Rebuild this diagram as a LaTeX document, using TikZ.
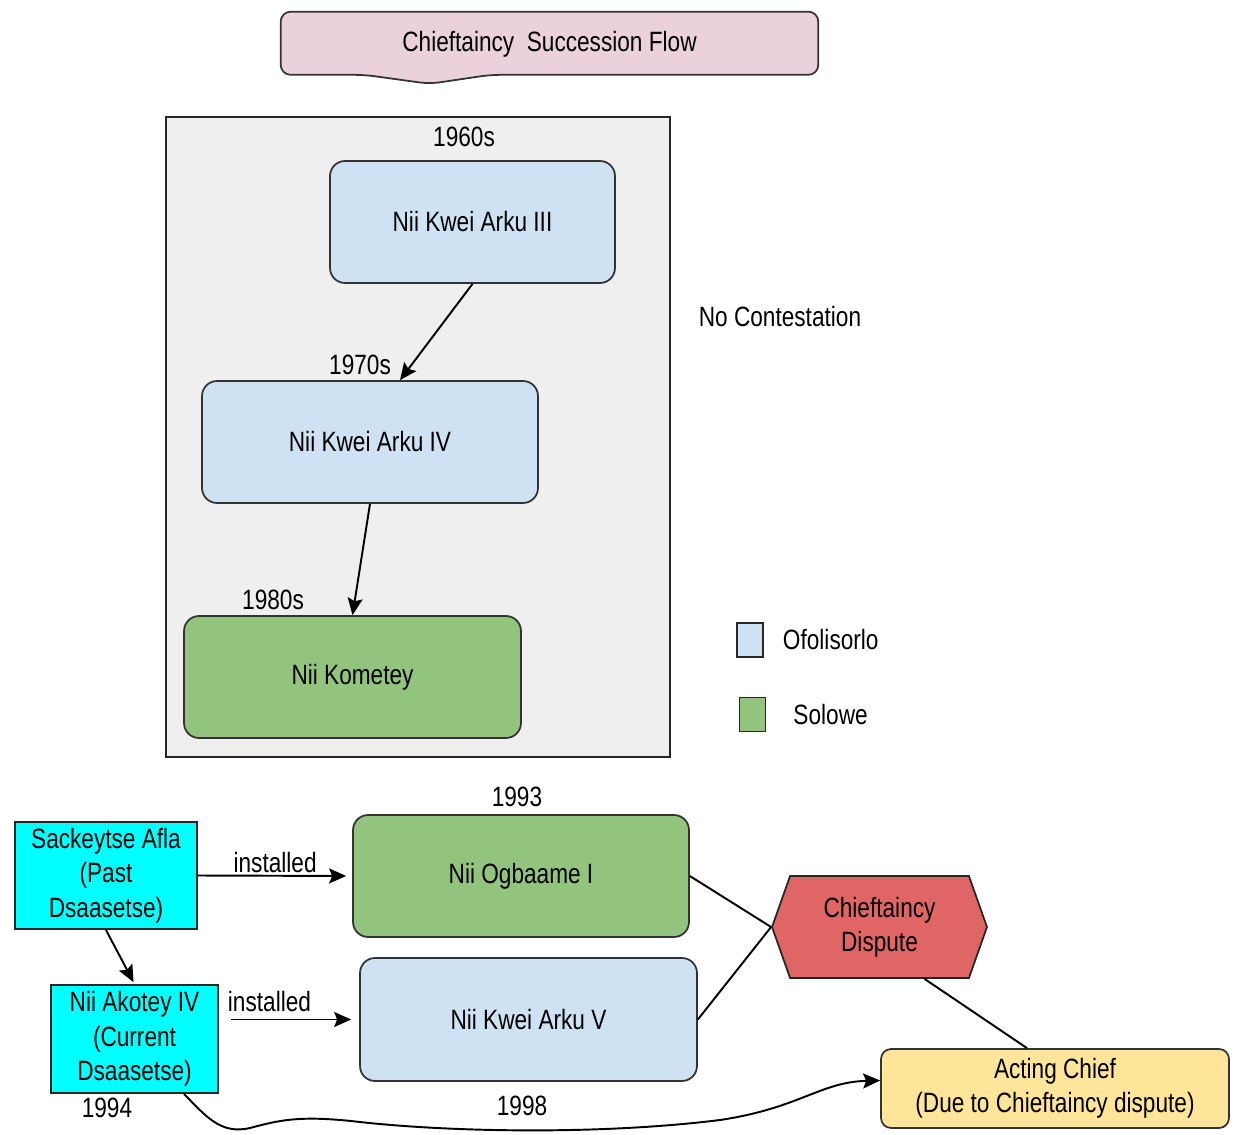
\documentclass[tikz,border=0pt]{standalone}
\usepackage{fontspec}
\setmainfont{Liberation Sans}[FakeStretch=0.81]
\usetikzlibrary{arrows.meta,positioning,shapes.symbols,backgrounds}
\definecolor{ttlpink}{HTML}{EAD1DC}
\definecolor{eragray}{HTML}{EFEFEF}
\definecolor{ofoblue}{HTML}{CFE2F3}
\definecolor{solgreen}{HTML}{93C47D}
\definecolor{dcyan}{HTML}{00FFFF}
\definecolor{dred}{HTML}{E06666}
\definecolor{actyellow}{HTML}{FFE599}

\begin{document}
\begin{tikzpicture}[
  x=0.02cm, y=-0.02cm,
  font=\fontsize{15.9}{19.6}\selectfont,
  box/.style={draw=black!80, line width=1pt, rounded corners=0.3cm, minimum width=6.72cm, minimum height=2.44cm, align=center},
  dsa/.style={draw=black!85, line width=1.2pt, fill=dcyan, align=center, inner sep=1pt},
  lab/.style={inner sep=1pt},
  key/.style={draw=black!85, line width=1pt, minimum width=0.52cm, minimum height=0.68cm, inner sep=0pt},
  con/.style={line width=1.1pt},
  arr/.style={con, -{Stealth[length=3.4mm, width=3mm, inset=0.6mm]}}
]
\useasboundingbox (0,0) rectangle (1244,1135);

% title banner
\node[minimum width=10.74cm, minimum height=1.22cm] (title) at (549.5,44) {Chieftaincy\ \ Succession Flow};
\begin{scope}[on background layer]
\draw[fill=ttlpink, draw=black!80, line width=1pt, rounded corners=0.2cm] ([yshift=0.03cm]title.west) -- ([yshift=0.03cm]title.north west) -- ([yshift=0.03cm]title.north east) -- (title.south east)
  -- ([xshift=-6.56cm]title.south east) -- ([xshift=2.98cm, yshift=-0.18cm]title.south west) -- ([xshift=1.68cm]title.south west) -- (title.south west) -- cycle;
\end{scope}

% uncontested period
\node[draw=black!85, line width=1pt, fill=eragray, minimum width=10.08cm, minimum height=12.8cm] (era) at (418,437) {};
\node[box, fill=ofoblue, minimum width=5.7cm] (k3) at (472.5,222) {Nii Kwei Arku III};
\node[box, fill=ofoblue] (k4) at (370,442) {Nii Kwei Arku IV};
\node[box, fill=solgreen, minimum width=6.74cm] (kom) at (352.5,677) {Nii Kometey};
\node[lab] (y60) at (464,137) {1960s};
\node[lab] (y70) at (360,365) {1970s};
\node[lab] (y80) at (273,600) {1980s};
\draw[arr] (k3.south) -- ([xshift=0.6cm]k4.north);
\draw[arr] (k4.south) -- (kom.north);

\node[lab] (nocon) at (780,317) {No Contestation};

% legend
\node[key, fill=ofoblue] (kofo) at (750,640) {};
\node[lab, right=0.34cm of kofo] (tofo) {Ofolisorlo};
\node[key, fill=solgreen] (ksol) at (752.5,714.5) {};
\node[lab, right=0.5cm of ksol] (tsol) {Solowe};

% contested period
\node[box, fill=solgreen] (ogb) at (521,876) {Nii Ogbaame I};
\node[box, fill=ofoblue, minimum width=6.74cm, minimum height=2.46cm] (k5) at (528.5,1019.5) {Nii Kwei Arku V};
\node[dsa, minimum width=3.64cm, minimum height=2.14cm] (sack) at (106,875.5) {Sackeytse Afla\\(Past\\Dsaasetse)};
\node[dsa, minimum width=3.34cm, minimum height=2.16cm] (ako) at (134.5,1039) {Nii Akotey IV\\(Current\\Dsaasetse)};
\node[draw=black!85, line width=1pt, fill=dred, signal, signal to=west and east, signal pointer angle=141,
  minimum width=4.3cm, minimum height=2.04cm, align=center, inner sep=1pt] (dispute) at (879.5,927) {Chieftaincy\\Dispute};
\node[draw=black!80, line width=1pt, fill=actyellow, rounded corners=0.2cm, minimum width=6.96cm, minimum height=1.58cm, align=center, inner sep=1pt] (acting) at (1055,1088.5) {Acting Chief\\(Due to Chieftaincy dispute)};

\node[lab] (y93) at (517,797) {1993};
\node[lab] (y94) at (107,1108) {1994};
\node[lab] (y98) at (522,1106) {1998};

\draw[arr, shorten >=0.12cm] (sack.east) -- (ogb.west) node[midway, above, lab] {installed};
\draw[arr, shorten <=0.24cm, shorten >=0.16cm] (ako.east |- k5.west) -- (k5.west) node[pos=.36, above, lab, yshift=3pt] {installed};
\draw[arr, shorten >=0.04cm] (sack.south) -- (ako.north);
\draw[con] (ogb.east) -- (dispute.west);
\draw[con] (k5.east) -- (dispute.west);
\draw[con] ([xshift=0.9cm]dispute.south) -- ([xshift=-0.56cm]acting.north);
\draw[arr] ([xshift=-0.7cm]ako.south east) .. controls (205,1115) and (220,1135) .. (250,1128)
  .. controls (280,1120) and (300,1115) .. (360,1122) .. controls (450,1132) and (600,1135) .. (720,1120)
  .. controls (800,1108) and (820,1082) .. ([yshift=0.16cm]acting.west);
\end{tikzpicture}
\end{document}
